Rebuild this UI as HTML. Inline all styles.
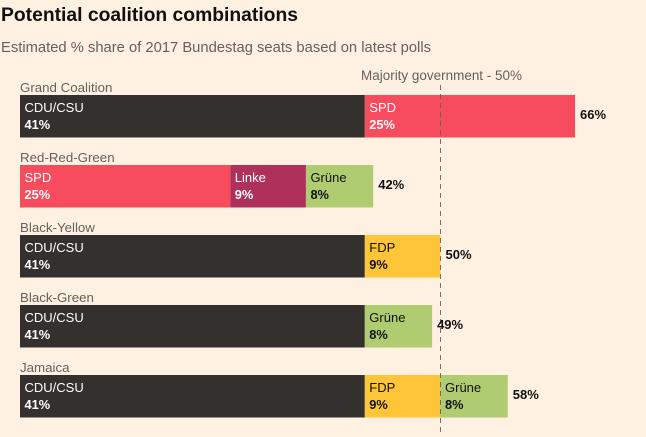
<!DOCTYPE html>
<html>
<head>
<meta charset="utf-8">
<style>
html,body{margin:0;padding:0;background:#fff1e2;}
svg{display:block;font-family:"Liberation Sans",sans-serif;}
</style>
</head>
<body>
<svg id="chart" width="646" height="437" viewBox="0 0 646 437" xmlns="http://www.w3.org/2000/svg">
<rect width="646" height="437" fill="#fff1e2"/>
<text x="1" y="21" font-size="19" font-weight="bold" fill="#111" textLength="297" lengthAdjust="spacingAndGlyphs">Potential coalition combinations</text>
<text x="1" y="52" font-size="14.5" fill="#66605c" textLength="430" lengthAdjust="spacingAndGlyphs">Estimated % share of 2017 Bundestag seats based on latest polls</text>
<text x="361" y="80" font-size="13.5" fill="#66605c" textLength="161" lengthAdjust="spacingAndGlyphs">Majority government - 50%</text>
<g id="bars"></g>
<line id="majority-line" y1="85" y2="432" stroke="#66605c" stroke-opacity="0.9" stroke-width="1" stroke-dasharray="5 4"/>
<g id="totals"></g>
</svg>
<script>
const coalitions = ["Grand Coalition", "Red-Red-Green", "Black-Yellow", "Black-Green", "Jamaica"];
const parties = [["CDU/CSU", "SPD"], ["SPD", "Linke", "Grüne"], ["CDU/CSU", "FDP"], ["CDU/CSU", "Grüne"], ["CDU/CSU", "FDP", "Grüne"]];
const seats = [[41, 25], [25, 9, 8], [41, 9], [41, 8], [41, 9, 8]];
const majority = 50;

const partyFill = {"CDU/CSU": "#33302e", "SPD": "#f64c5d", "Linke": "#b0305c", "Grüne": "#afcc70", "FDP": "#fdc537"};
const partyInk = {"CDU/CSU": "#fff", "SPD": "#fff", "Linke": "#fff", "Grüne": "#111", "FDP": "#111"};
const NS = "http://www.w3.org/2000/svg";
const x = v => 20 + v * 8.41;
const y = i => 95 + i * 70;
const barHeight = 42.5;
const barsG = document.getElementById("bars");
const totalsG = document.getElementById("totals");

function svgText(parent, tx, ty, size, weight, fill, str) {
  const t = document.createElementNS(NS, "text");
  t.setAttribute("x", tx);
  t.setAttribute("y", ty);
  t.setAttribute("font-size", size);
  t.setAttribute("font-weight", weight);
  t.setAttribute("fill", fill);
  t.textContent = str;
  parent.appendChild(t);
  return t;
}

coalitions.forEach((name, i) => {
  const title = svgText(barsG, 20, y(i) - 3, 13.3, "normal", "#66605c", name);
  
  
  let sum = 0;
  seats[i].forEach((v, j) => {
    const p = parties[i][j];
    const r = document.createElementNS(NS, "rect");
    r.setAttribute("x", x(sum));
    r.setAttribute("y", y(i));
    r.setAttribute("width", x(sum + v) - x(sum));
    r.setAttribute("height", barHeight);
    r.setAttribute("fill", partyFill[p]);
    
    
    barsG.appendChild(r);
    const pl = svgText(barsG, x(sum) + 4.5, y(i) + 17, 13, "normal", partyInk[p], p);
    
    
    const vl = svgText(barsG, x(sum) + 4.5, y(i) + 34, 12.8, "bold", partyInk[p], v + "%");
    
    
    sum += v;
  });
  const tl = svgText(totalsG, x(sum) + 5, y(i) + 24, 13, "bold", "#111", sum + "%");
  
  
});

const line = document.getElementById("majority-line");
line.setAttribute("x1", Math.floor(x(majority)) + 0.5);
line.setAttribute("x2", Math.floor(x(majority)) + 0.5);
</script>
</body>
</html>
